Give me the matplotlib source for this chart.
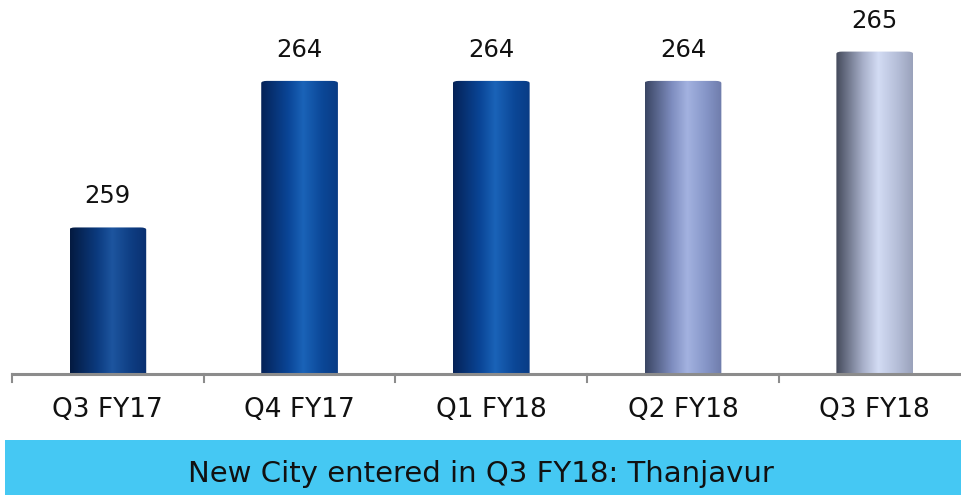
import numpy as np
import matplotlib
matplotlib.use("Agg")
import matplotlib.pyplot as plt
from matplotlib.colors import LinearSegmentedColormap
from matplotlib.patches import Rectangle, FancyBboxPatch

categories = ["Q3 FY17", "Q4 FY17", "Q1 FY18", "Q2 FY18", "Q3 FY18"]
values = [259, 264, 264, 264, 265]
banner_text = "New City entered in Q3 FY18: Thanjavur"

# gradient (dark edge, base, highlight, base, edge) per bar
bar_grads = [
    ["#041a40", "#0b3a7e", "#1d559f", "#0e3d82", "#0a3070"],
    ["#052257", "#0a4596", "#1a63b8", "#0b4797", "#093c85"],
    ["#052257", "#0a4596", "#1a63b8", "#0b4797", "#093c85"],
    ["#3a4563", "#7e8dbf", "#a3b2e0", "#8595c7", "#6f7cab"],
    ["#444a5b", "#a7afc9", "#d3dcf4", "#b5bed8", "#9aa2bb"],
]

fig = plt.figure(figsize=(9.61, 4.95), dpi=100)
ax = fig.add_axes([12/961, 1 - 374/495, (961-12)/961, 374/495])
ax.set_xlim(-0.5, 4.45)
ymin, ymax = 254.0, 266.76
ax.set_ylim(ymin, ymax)

x = np.arange(len(categories))
bw = 0.40
bars = ax.bar(x, [v - ymin for v in values], bottom=ymin, width=bw,
              color="none", edgecolor="none", zorder=2)

grad = np.linspace(0, 1, 256).reshape(1, -1)
for b, cols, v in zip(bars, bar_grads, values):
    cmap = LinearSegmentedColormap.from_list("g", list(zip([0, 0.35, 0.55, 0.8, 1.0], cols)))
    x0, w = b.get_x(), b.get_width()
    im = ax.imshow(grad, cmap=cmap, aspect="auto",
                   extent=[x0, x0 + w, ymin, v], zorder=2)
    clip = FancyBboxPatch((x0, ymin - 1), w, v - ymin + 1,
                          boxstyle="round,pad=0,rounding_size=0.03",
                          mutation_aspect=(ymax - ymin) / 4.95 * 9.61 / 4.95 * 0.5,
                          transform=ax.transData, facecolor="none", edgecolor="none")
    ax.add_patch(clip)
    im.set_clip_path(clip)
    ax.annotate(f"{v}", xy=(b.get_x() + w / 2, v), xytext=(0, 24),
                textcoords="offset pixels", ha="center", va="baseline",
                fontsize=17.5, color="#111111")

for s in ["top", "right", "left"]:
    ax.spines[s].set_visible(False)
ax.spines["bottom"].set_color("#8c8c8c")
ax.spines["bottom"].set_linewidth(2.2)
ax.set_yticks([])
ax.set_xticks([])
for xi, lab in zip(x, categories):
    ax.annotate(lab, xy=(xi, ymin), xytext=(0, -43), textcoords="offset pixels",
                ha="center", va="baseline", fontsize=19, color="#111111",
                annotation_clip=False)
for xt in np.arange(len(categories)) - 0.5:
    ax.plot([xt, xt], [ymin, ymin - 0.28], color="#8c8c8c", lw=1.5,
            clip_on=False, zorder=3)

# banner
fig.patches.append(Rectangle((5/961, 0), (961-5)/961, 55/495,
                             transform=fig.transFigure, facecolor="#45c8f3",
                             edgecolor="none", zorder=0))
fig.text(0.5, 13/495, banner_text, ha="center", va="baseline",
         fontsize=21, color="#111111")

fig.savefig("out.png", dpi=100)
